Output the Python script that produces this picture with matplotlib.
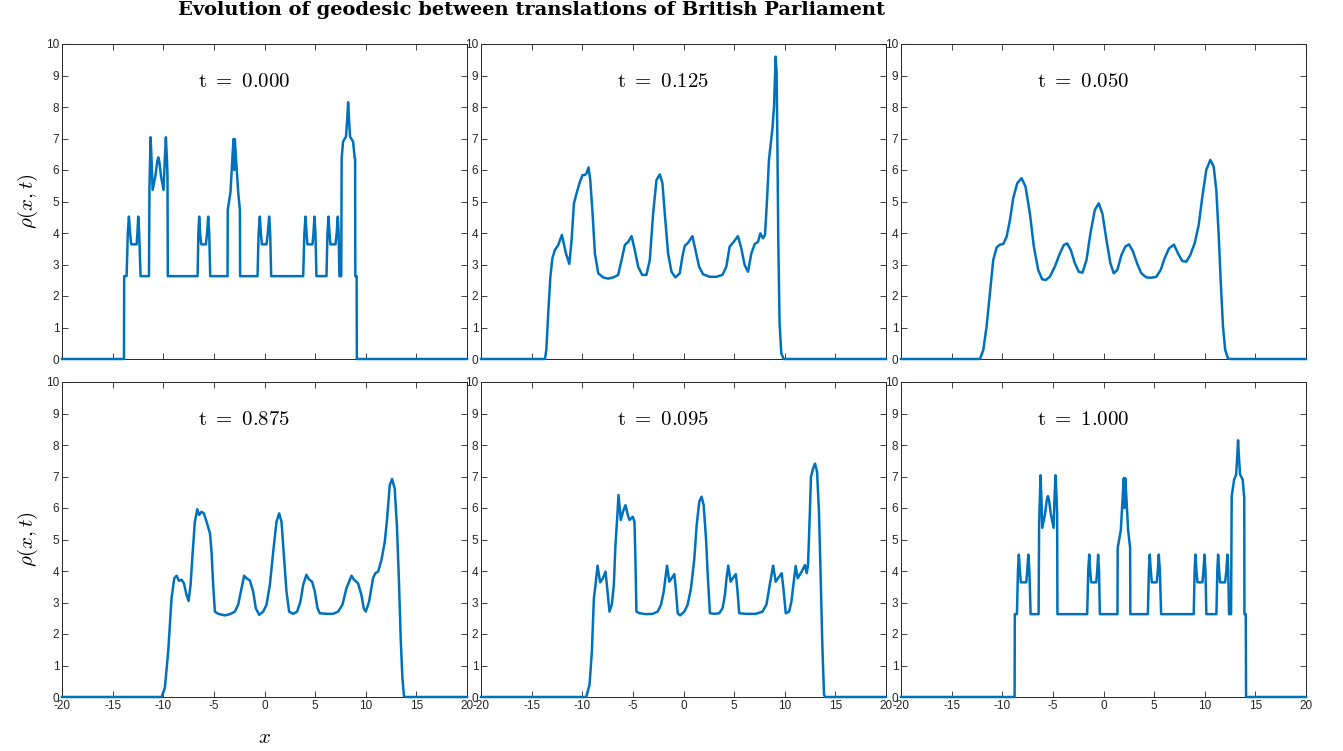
import matplotlib
matplotlib.use("Agg")
import matplotlib.pyplot as plt

plt.rcParams['font.family'] = 'Liberation Sans'
plt.rcParams['mathtext.fontset'] = 'cm'
plt.rcParams['axes.unicode_minus'] = False

# snapshots of rho(x,t)
x_t000 = [-20, -13.88, -13.86, -13.62, -13.50, -13.39, -13.28, -13.16, -12.63, -12.55, -12.47, -12.38, -12.24,
          -11.41, -11.36, -11.25, -11.15, -11.05, -10.78, -10.60, -10.49, -10.38, -10.22, -9.97, -9.85, -9.74,
          -9.63, -9.58, -9.55, -6.61, -6.53, -6.45, -6.36, -6.25, -5.79, -5.67, -5.56, -5.46, -5.36,
          -3.65, -3.63, -3.36, -3.15, -3.06, -2.99, -2.93, -2.82, -2.60, -2.43, -2.41,
          -0.69, -0.58, -0.46, -0.36, -0.26, 0.20, 0.33, 0.46, 0.56, 0.66,
          3.82, 3.94, 4.05, 4.15, 4.24, 4.74, 4.84, 4.93, 5.03, 5.13,
          6.12, 6.22, 6.32, 6.42, 6.51, 7.01, 7.13, 7.24, 7.32, 7.40, 7.58,
          7.62, 7.76, 8.05, 8.17, 8.26, 8.35, 8.45, 8.75, 8.91, 8.95, 8.97, 9.10, 9.12, 20]
y_t000 = [0, 0, 2.63, 2.63, 4.0, 4.52, 4.0, 3.64, 3.64, 4.0, 4.52, 4.0, 2.63,
          2.63, 5.5, 7.04, 6.3, 5.37, 5.8, 6.25, 6.40, 6.25, 5.8, 5.37, 6.3, 7.04,
          6.3, 5.8, 2.63, 2.63, 4.0, 4.52, 4.0, 3.64, 3.64, 4.0, 4.52, 4.0, 2.63,
          2.63, 4.73, 5.3, 6.5, 6.98, 6.0, 6.98, 6.4, 5.3, 4.73, 2.63,
          2.63, 4.0, 4.52, 4.0, 3.64, 3.64, 4.0, 4.52, 4.0, 2.63,
          2.63, 4.0, 4.52, 4.0, 3.64, 3.64, 4.0, 4.52, 4.0, 2.63,
          2.63, 4.0, 4.52, 4.0, 3.64, 3.64, 4.0, 4.52, 4.0, 2.63, 2.63,
          6.37, 6.9, 7.06, 7.6, 8.15, 7.6, 7.06, 6.9, 6.37, 6.37, 2.63, 2.63, 0, 0]

x_t125 = [-20, -13.68, -13.55, -13.35, -13.15, -12.95, -12.70, -12.37, -12.01, -11.61, -11.28, -11.05,
          -10.82, -10.56, -10.23, -9.97, -9.74, -9.57, -9.38, -9.21, -8.98, -8.75, -8.42, -7.93, -7.44,
          -6.94, -6.45, -6.12, -5.79, -5.46, -5.13, -4.81, -4.48, -4.08, -3.66, -3.33, -3.00, -2.67,
          -2.34, -2.08, -1.85, -1.52, -1.19, -0.80, -0.37, -0.11, 0.12, 0.45, 0.88, 1.18, 1.54, 1.93,
          2.59, 3.25, 3.84, 4.23, 4.56, 4.96, 5.38, 5.71, 6.04, 6.37, 6.70, 7.03, 7.36, 7.59, 7.85,
          8.05, 8.25, 8.44, 8.77, 8.94, 9.10, 9.20, 9.27, 9.36, 9.49, 9.66, 9.89, 20]
y_t125 = [0, 0, 0.3, 1.5, 2.6, 3.2, 3.46, 3.62, 3.94, 3.35, 3.02, 3.78,
          4.94, 5.26, 5.63, 5.84, 5.84, 5.90, 6.08, 5.68, 4.62, 3.35, 2.72, 2.59, 2.55,
          2.59, 2.67, 3.14, 3.62, 3.72, 3.90, 3.46, 2.93, 2.67, 2.67, 3.14, 4.62, 5.68,
          5.86, 5.58, 4.62, 3.35, 2.77, 2.59, 2.72, 3.25, 3.59, 3.69, 3.90, 3.46, 2.93, 2.69,
          2.61, 2.61, 2.67, 2.93, 3.57, 3.72, 3.90, 3.51, 2.98, 2.77, 3.35, 3.65, 3.72, 3.99, 3.83,
          3.94, 5.05, 6.32, 7.27, 8.01, 9.6, 9.07, 6.95, 3.78, 1.13, 0.18, 0, 0]

x_t050 = [-20, -12.20, -11.87, -11.55, -11.22, -10.89, -10.56, -10.23, -9.90, -9.57, -9.24, -8.92,
          -8.52, -8.09, -7.70, -7.27, -6.88, -6.45, -6.06, -5.69, -5.30, -4.81, -4.31, -3.92, -3.59,
          -3.23, -2.83, -2.44, -2.08, -1.68, -1.29, -0.86, -0.47, -0.11, 0.29, 0.68, 1.01, 1.37,
          1.77, 2.16, 2.52, 2.92, 3.31, 3.74, 4.23, 4.73, 5.22, 5.65, 6.04, 6.47, 6.96, 7.36, 7.78,
          8.18, 8.57, 9.00, 9.40, 9.76, 10.15, 10.55, 10.88, 11.14, 11.37, 11.57, 11.80, 12.02,
          12.29, 12.5, 20]
y_t050 = [0, 0, 0.29, 1.03, 2.08, 3.14, 3.54, 3.63, 3.65, 3.88, 4.41, 5.10,
          5.58, 5.74, 5.47, 4.62, 3.57, 2.83, 2.53, 2.51, 2.61, 2.93, 3.35, 3.62, 3.67,
          3.46, 3.04, 2.77, 2.74, 3.14, 3.99, 4.73, 4.94, 4.62, 3.78, 3.04, 2.72, 2.83,
          3.30, 3.57, 3.64, 3.41, 3.04, 2.72, 2.59, 2.58, 2.61, 2.83, 3.20, 3.51, 3.63, 3.35, 3.11,
          3.09, 3.30, 3.67, 4.25, 5.15, 6.00, 6.32, 6.11, 5.37, 3.99, 2.51, 1.03, 0.29,
          0.02, 0, 0]

x_t875 = [-20, -10.16, -9.84, -9.51, -9.18, -8.91, -8.68, -8.45, -8.19, -7.96, -7.70, -7.50, -7.30,
          -7.11, -6.88, -6.64, -6.45, -6.22, -5.99, -5.72, -5.39, -5.23, -5.07, -4.90, -4.57, -3.91,
          -3.42, -2.93, -2.60, -2.27, -2.01, -1.78, -1.45, -1.12, -0.86, -0.53, -0.13, 0.20, 0.53,
          0.86, 1.18, 1.45, 1.68, 1.91, 2.17, 2.43, 2.83, 3.22, 3.55, 3.82, 4.14, 4.38, 4.70, 4.97,
          5.23, 5.46, 6.12, 6.78, 7.27, 7.70, 8.09, 8.59, 8.85, 9.24, 9.57, 9.80, 10.00, 10.33,
          10.72, 10.95, 11.22, 11.55, 11.88, 12.11, 12.37, 12.60, 12.86, 13.09, 13.29, 13.45,
          13.62, 13.78, 14.0, 20]
y_t875 = [0, 0, 0.29, 1.45, 3.14, 3.77, 3.85, 3.69, 3.72, 3.61, 3.24, 3.05, 3.56,
          4.51, 5.56, 5.96, 5.78, 5.88, 5.83, 5.56, 5.20, 4.61, 3.56, 2.71, 2.64, 2.59,
          2.63, 2.71, 2.93, 3.45, 3.85, 3.77, 3.70, 3.35, 2.82, 2.61, 2.71, 2.93, 3.56,
          4.61, 5.56, 5.83, 5.56, 4.51, 3.35, 2.71, 2.64, 2.71, 3.03, 3.56, 3.88, 3.74, 3.66, 3.35,
          2.82, 2.66, 2.64, 2.64, 2.71, 2.93, 3.45, 3.85, 3.72, 3.61, 3.24, 2.82, 2.71, 3.03,
          3.77, 3.93, 3.98, 4.35, 4.93, 5.67, 6.73, 6.92, 6.62, 5.35, 3.56, 1.87,
          0.60, 0.02, 0, 0]

x_t095 = [-20, -9.61, -9.28, -9.05, -8.85, -8.69, -8.49, -8.23, -7.96, -7.70, -7.47, -7.31, -7.08,
          -6.88, -6.72, -6.55, -6.42, -6.19, -5.93, -5.73, -5.50, -5.34, -5.17, -5.01, -4.84, -4.75,
          -4.65, -4.35, -3.69, -3.04, -2.55, -2.22, -1.95, -1.79, -1.63, -1.40, -1.13, -0.90, -0.74,
          -0.57, -0.34, 0.08, 0.41, 0.74, 1.07, 1.30, 1.56, 1.79, 1.99, 2.22, 2.41, 2.61, 3.04, 3.53,
          3.86, 4.09, 4.25, 4.42, 4.65, 4.91, 5.17, 5.34, 5.50, 6.16, 7.14, 7.80, 8.19, 8.52, 8.85,
          9.11, 9.38, 9.70, 9.90, 10.10, 10.43, 10.66, 10.85, 11.08, 11.28, 11.48, 11.67, 11.84,
          12.00, 12.17, 12.30, 12.46, 12.59, 12.79, 12.99, 13.19, 13.38, 13.55, 13.71, 13.88, 14.0, 20]
y_t095 = [0, 0, 0.39, 1.45, 3.14, 3.56, 4.17, 3.64, 3.77, 3.98, 3.24, 2.71, 2.93,
          3.56, 4.83, 5.67, 6.41, 5.62, 5.93, 6.09, 5.78, 5.62, 5.67, 5.72, 5.56, 4.40,
          2.71, 2.66, 2.63, 2.64, 2.71, 2.93, 3.35, 3.77, 4.17, 3.66, 3.79, 3.90, 3.35,
          2.66, 2.59, 2.71, 2.93, 3.45, 4.40, 5.46, 6.20, 6.36, 6.09, 5.04, 3.77, 2.66, 2.64, 2.66,
          2.82, 3.24, 3.77, 4.17, 3.66, 3.79, 3.90, 3.35, 2.66, 2.64, 2.64, 2.71, 2.93, 3.56, 4.17,
          3.66, 3.79, 3.93, 3.35, 2.66, 2.71, 3.03, 3.56, 4.16, 3.77, 3.88, 3.98, 4.09,
          4.19, 3.93, 4.19, 5.67, 6.99, 7.25, 7.41, 7.15, 5.88, 3.77, 1.66, 0.07, 0, 0]

x_t100 = [-20, -8.78, -8.76, -8.55, -8.45, -8.36, -8.26, -8.16, -7.63, -7.53, -7.43, -7.32, -7.20,
          -6.41, -6.36, -6.22, -6.13, -6.05, -5.78, -5.60, -5.49, -5.38, -5.20, -4.93, -4.84, -4.74,
          -4.63, -4.58, -4.55, -1.61, -1.51, -1.41, -1.31, -1.22, -0.72, -0.62, -0.53, -0.44, -0.36,
          1.38, 1.40, 1.71, 1.92, 2.01, 2.07, 2.14, 2.25, 2.43, 2.63, 2.65,
          4.38, 4.48, 4.57, 4.67, 4.77, 5.26, 5.36, 5.46, 5.57, 5.69,
          8.91, 9.00, 9.08, 9.18, 9.28, 9.77, 9.87, 9.97, 10.07, 10.16,
          11.15, 11.24, 11.32, 11.42, 11.51, 12.01, 12.13, 12.24, 12.32, 12.40, 12.60,
          12.66, 12.90, 13.10, 13.20, 13.29, 13.38, 13.49, 13.75, 13.88, 13.90, 13.92, 14.05, 14.08, 20]
y_t100 = [0, 0, 2.63, 2.63, 4.0, 4.52, 4.0, 3.64, 3.64, 4.0, 4.52, 4.0, 2.63,
          2.63, 5.5, 7.04, 6.3, 5.37, 5.8, 6.25, 6.38, 6.25, 5.8, 5.37, 6.3, 7.04,
          6.3, 5.8, 2.63, 2.63, 4.0, 4.52, 4.0, 3.64, 3.64, 4.0, 4.52, 4.0, 2.63,
          2.63, 4.73, 5.3, 6.5, 6.95, 6.0, 6.95, 6.4, 5.3, 4.73, 2.63,
          2.63, 4.0, 4.52, 4.0, 3.64, 3.64, 4.0, 4.52, 4.0, 2.63,
          2.63, 4.0, 4.52, 4.0, 3.64, 3.64, 4.0, 4.52, 4.0, 2.63,
          2.63, 4.0, 4.52, 4.0, 3.64, 3.64, 4.0, 4.52, 4.0, 2.63, 2.63,
          6.37, 6.9, 7.06, 7.6, 8.15, 7.6, 7.06, 6.9, 6.37, 6.37, 2.63, 2.63, 0, 0]

panels = [(x_t000, y_t000, '0.000'), (x_t125, y_t125, '0.125'), (x_t050, y_t050, '0.050'),
          (x_t875, y_t875, '0.875'), (x_t095, y_t095, '0.095'), (x_t100, y_t100, '1.000')]

W, H = 1343, 751
lefts = [62, 481, 901]
tops = [44, 382]

fig = plt.figure(figsize=(W / 100, H / 100), dpi=100)

for i, (xs, ys, t) in enumerate(panels):
    row, col = i // 3, i % 3
    ax = fig.add_axes([lefts[col] / W, 1 - (tops[row] + 315) / H, 405 / W, 315 / H])
    ax.plot(xs, ys, color='#0072BD', lw=1.8, clip_on=False, zorder=3)
    ax.set_xlim(-20, 20)
    ax.set_ylim(0, 10)
    ax.set_xticks(range(-20, 21, 5))
    ax.set_yticks(range(0, 11))
    ax.tick_params(direction='in', top=True, right=True, length=4, width=0.6,
                   labelsize=8.5, colors='#262626', pad=2)
    for s in ax.spines.values():
        s.set_color('#262626')
        s.set_linewidth(0.7)
    if row == 0:
        ax.tick_params(labelbottom=False)
    ax.text(-2, 8.8, r'$\mathrm{t}\ =\ ' + t + '$', fontsize=15, ha='center', va='center')
    if col == 0:
        ax.set_ylabel(r'$\rho(x,t)$', fontsize=15, labelpad=4)
    if row == 1 and col == 0:
        ax.set_xlabel(r'$x$', fontsize=15, labelpad=12)

fig.text(532 / W, 1 - 10 / H, 'Evolution of geodesic between translations of British Parliament',
         family='DejaVu Serif', weight='bold', fontsize=14, ha='center', va='center')

fig.savefig('out.png', dpi=100)
